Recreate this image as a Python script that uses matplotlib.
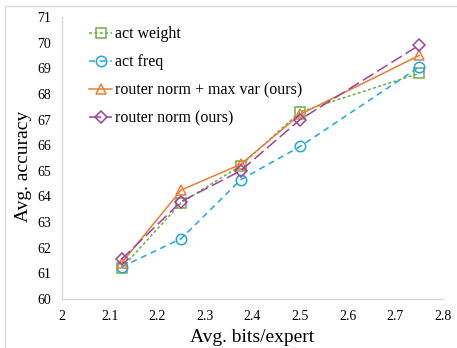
import matplotlib
matplotlib.use("Agg")
import matplotlib.pyplot as plt
from matplotlib.patches import Rectangle

bits = [2.125, 2.25, 2.375, 2.5, 2.75]
act_weight = [61.2, 63.75, 65.2, 67.3, 68.8]
act_freq = [61.25, 62.35, 64.65, 65.95, 69.05]
router_norm_maxvar = [61.4, 64.25, 65.25, 67.2, 69.5]
router_norm = [61.55, 63.8, 65.0, 67.0, 69.9]

labels = ["act weight", "act freq", "router norm + max var (ours)", "router norm (ours)"]
xticks = [2, 2.1, 2.2, 2.3, 2.4, 2.5, 2.6, 2.7, 2.8]
yticks = list(range(60, 72))

plt.rcParams['font.family'] = ['Liberation Serif', 'DejaVu Serif']

fig = plt.figure(figsize=(4.57, 3.48), dpi=100)
ax = fig.add_axes([62/457, 1-299/348, (443-62)/457, (299-17)/348])

fig.patches.append(Rectangle((5/457, -0.05), 1.2, (1-6/348)+0.05, transform=fig.transFigure,
                             fill=False, edgecolor='#d9d9d9', linewidth=1.0))

styles = [
    (act_weight, '#70AD47', (0, (2, 1.5)), 's'),
    (act_freq, '#1EA7E1', (0, (4, 3)), 'o'),
    (router_norm_maxvar, '#ED7D31', '-', '^'),
    (router_norm, '#A040A0', (0, (8, 3)), 'D'),
]
for (vals, c, ls, m), lab in zip(styles, labels):
    ms = 6.5 if m == 'D' else 7.5
    ax.plot(bits, vals, color=c, linestyle=ls, linewidth=1.1, marker=m,
            markersize=ms, markerfacecolor='none', markeredgecolor=c,
            markeredgewidth=1.1, label=lab)

ax.set_xlim(2, 2.8)
ax.set_ylim(60, 71)
ax.set_xticks(xticks)
ax.set_xticklabels([f"{t:g}" for t in xticks])
ax.set_yticks(yticks)
ax.tick_params(length=0, labelsize=10, pad=8)
for s in ['top', 'right']:
    ax.spines[s].set_visible(False)
for s in ['left', 'bottom']:
    ax.spines[s].set_color('#d9d9d9')
    ax.spines[s].set_linewidth(1.0)

ax.set_xlabel("Avg. bits/expert", fontsize=14, labelpad=4)
ax.set_ylabel("Avg. accuracy", fontsize=14, labelpad=3)
ax.yaxis.set_label_coords(-0.08, 0.47)

leg = ax.legend(loc='upper left', frameon=False, fontsize=11.5, handlelength=1.4,
                handletextpad=0.2, labelspacing=0.75, bbox_to_anchor=(0.055, 0.99),
                borderaxespad=0)

fig.savefig("out.png", dpi=100)
